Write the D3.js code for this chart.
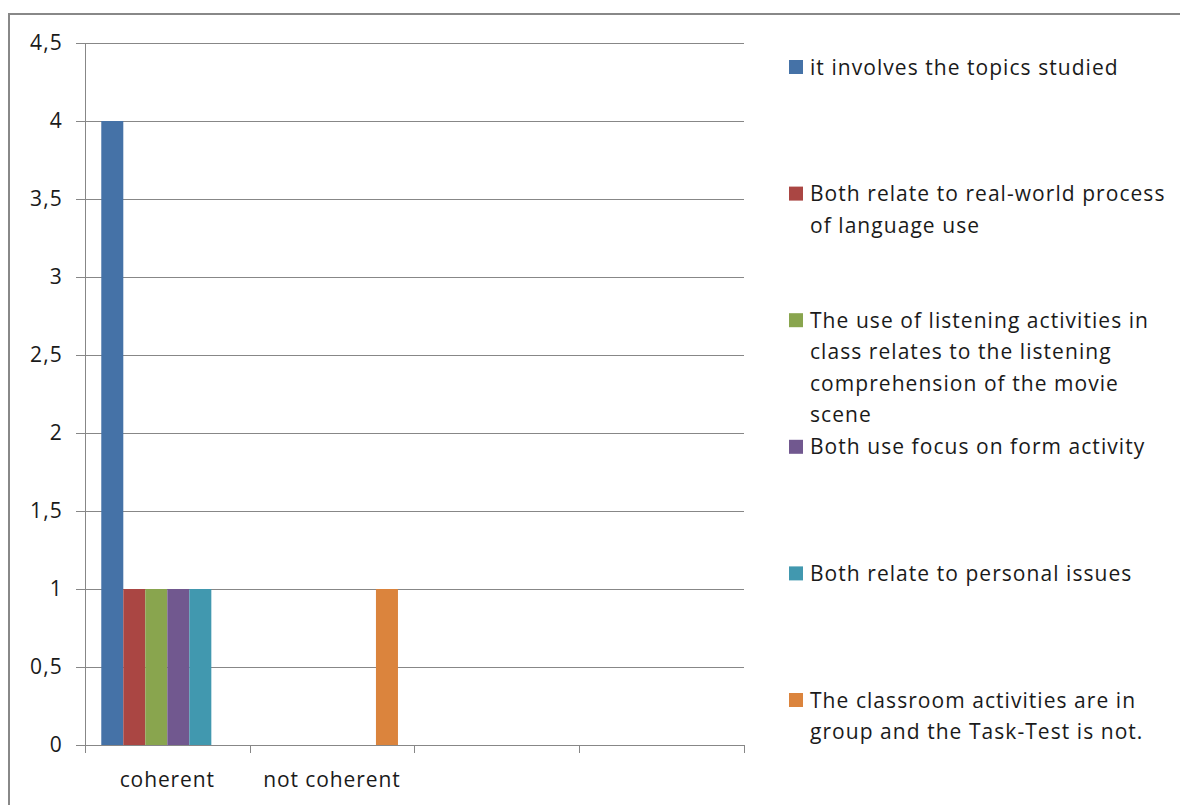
<!DOCTYPE html>
<html><head><meta charset="utf-8">
<script src="https://cdn.jsdelivr.net/npm/d3@7/dist/d3.min.js"></script>
<style>
html,body{margin:0;padding:0;background:#fff;}
svg{display:block;font-family:"Open Sans",Lato,sans-serif;}
</style></head><body>
<svg id="chart" width="1180" height="805"></svg>
<script>
const categories = ["coherent", "not coherent", "", ""];
const seriesNames = [
  "it involves the topics studied",
  "Both relate to real-world process of language use",
  "The use of listening activities in class relates to the listening comprehension of the movie scene",
  "Both use focus on form activity",
  "Both relate to personal issues",
  "The classroom activities are in group and the Task-Test is not."
];
const legendLines = [
  ["it involves the topics studied"],
  ["Both relate to real-world process", "of language use"],
  ["The use of listening activities in", "class relates to the listening", "comprehension of the movie", "scene"],
  ["Both use focus on form activity"],
  ["Both relate to personal issues"],
  ["The classroom activities are in", "group and the Task-Test is not."]
];
const seriesColors = ["#4572A7", "#AA4643", "#89A54E", "#71588F", "#4198AF", "#DB843D"];
// values[series][category]
const values = [
  [4, 0, null, null],
  [1, 0, null, null],
  [1, 0, null, null],
  [1, 0, null, null],
  [1, 0, null, null],
  [0, 1, null, null]
];
const yTicks = [0, 0.5, 1, 1.5, 2, 2.5, 3, 3.5, 4, 4.5];

const svg = d3.select("#chart");
const gridColor = "#878787";
const textColor = "#1a1a1a";
const fontFam = "'Open Sans', Lato, sans-serif";

// outer chart border
svg.append("rect").attr("x", 9).attr("y", 14).attr("width", 1200).attr("height", 900)
  .attr("fill", "none").attr("stroke", "#888").attr("stroke-width", 2);

const pLeft = 85, pRight = 743.5, pTop = 43, pBottom = 745;
const x = d3.scaleBand().domain(d3.range(categories.length)).range([pLeft, pRight]).paddingInner(0).paddingOuter(0);
const x1 = d3.scaleBand().domain(d3.range(seriesNames.length))
  .range([0, x.bandwidth()]).paddingOuter(0.74).paddingInner(0);
const y = d3.scaleLinear().domain([0, 4.5]).range([pBottom, pTop]);

// gridlines + y tick labels
const yAxis = d3.axisLeft(y).tickValues(yTicks).tickSize(9).tickFormat(d => String(d).replace(".", ","));
const gy = svg.append("g").attr("transform", `translate(${pLeft},0)`).call(yAxis);
gy.select(".domain").remove();
gy.selectAll(".tick line").attr("stroke", gridColor).attr("x2", -9).attr("x1", pRight - pLeft).attr("shape-rendering", "crispEdges");
gy.selectAll(".tick text").attr("x", -22).attr("fill", textColor)
  .style("font-size", "21px").style("letter-spacing", "1.2px").style("font-family", fontFam);

// bars
const bars = svg.append("g");
values.forEach((vals, s) => {
  bars.selectAll(null).data(vals.map((v, c) => ({v, c})).filter(d => d.v))
    .enter().append("rect")
    .attr("x", d => x(d.c) + x1(s))
    .attr("width", x1.bandwidth())
    .attr("y", d => y(d.v))
    .attr("height", d => y(0) - y(d.v))
    .attr("fill", seriesColors[s]);
});

// y axis line
svg.append("line").attr("x1", pLeft + 0.5).attr("x2", pLeft + 0.5).attr("y1", pTop).attr("y2", pBottom + 8)
  .attr("stroke", gridColor);
// x axis
const xAxis = d3.axisBottom(x).tickSize(0).tickFormat(i => categories[i]);
const gx = svg.append("g").attr("transform", `translate(0,${pBottom})`).call(xAxis);
gx.select(".domain").attr("stroke", gridColor);
gx.selectAll(".tick text").attr("y", 42).attr("dy", 0).attr("fill", textColor)
  .style("font-size", "21px").style("letter-spacing", "0.9px").style("font-family", fontFam);
// category boundary ticks
const bounds = d3.range(categories.length + 1).map(i => i < categories.length ? x(i) : pRight);
svg.append("g").selectAll("line").data(bounds).enter().append("line")
  .attr("x1", d => Math.round(d) + 0.5).attr("x2", d => Math.round(d) + 0.5)
  .attr("y1", pBottom).attr("y2", pBottom + 8).attr("stroke", gridColor);

// legend
const legend = svg.append("g");
const lineH = 31.5, step = 126.6;
legendLines.forEach((lines, i) => {
  const cy = 67 + i * step;
  const g = legend.append("g");
  g.append("rect").attr("x", 789).attr("y", cy - 7).attr("width", 14).attr("height", 14).attr("fill", seriesColors[i]);
  lines.forEach((t, j) => {
    g.append("text").attr("x", 810).attr("y", cy + j * lineH).attr("dy", "0.36em")
      .attr("fill", textColor).style("font-size", "21px").style("letter-spacing", "1.05px").text(t);
  });
});
</script></body></html>
